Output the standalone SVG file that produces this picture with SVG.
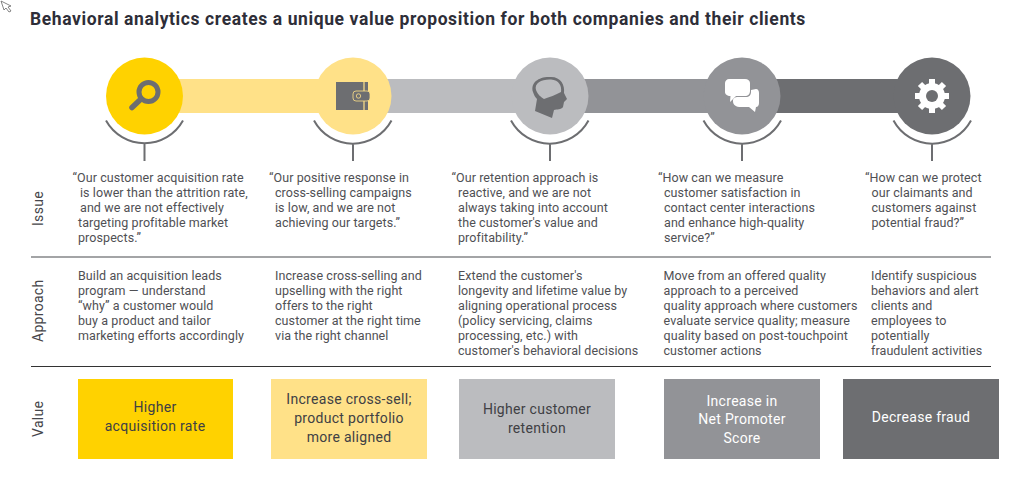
<svg xmlns="http://www.w3.org/2000/svg" width="1024" height="477" viewBox="0 0 1024 477">
<style>
text{font-family:Roboto,"Liberation Sans",sans-serif}
.t{font-size:12.5px;fill:#4f5054;letter-spacing:.08px}
.h{font-size:17.5px;font-weight:700;fill:#2e2e38;letter-spacing:.6px}
.r{font-size:14px;fill:#46464a;letter-spacing:.3px}
.v{font-size:14px;text-anchor:middle;letter-spacing:.3px;fill:#404044}
.w{fill:#fff}
.arc{fill:none;stroke:#6d6e71;stroke-width:2}
.ic{fill:#6d6e71}
</style>
<rect width="1024" height="477" fill="#fff"/>
<path d="M1 1l3 9 2-2 3 4 2-1-3-4 3-1z" fill="#fff" stroke="#666" stroke-width=".8"/>
<text class="h" x="30" y="25">Behavioral analytics creates a unique value proposition for both companies and their clients</text>
<g id="connectors">
<rect x="144" y="79" width="209" height="34" fill="#ffe188"/>
<rect x="353" y="79" width="197" height="34" fill="#bbbcbf"/>
<rect x="550" y="79" width="192" height="34" fill="#929397"/>
<rect x="742" y="79" width="190" height="34" fill="#6d6e71"/>
<path class="arc" d="M106 120.500A44 44 0 0 0 183 120.500M144.500 143V161"/>
<path class="arc" d="M314 120.500A44 44 0 0 0 391.500 120.500M353 143V161"/>
<path class="arc" d="M511 120.500A44 44 0 0 0 588.500 120.500M550 143V161"/>
<path class="arc" d="M703.500 120.500A44 44 0 0 0 781 120.500M742 143V161"/>
<path class="arc" d="M893.500 120.500A44 44 0 0 0 971 120.500M932 143V161"/>
<path d="M31 257H991" stroke="#858689" stroke-width="1.500"/>
<path d="M31 366.500H991" stroke="#333" stroke-width="1.200"/>
</g>
<g id="rows">
<text class="r" transform="translate(43 226) rotate(-90)">Issue</text>
<text class="r" transform="translate(43 342) rotate(-90)">Approach</text>
<text class="r" transform="translate(43 437) rotate(-90)">Value</text>
</g>
<g id="step1">
<circle cx="144.500" cy="96" r="38.500" fill="#ffd200"/>
<circle class="arc" cx="148.500" cy="92" r="9.500" style="stroke-width:5"/>
<path d="M141 99L132 107.500" stroke="#6d6e71" stroke-width="5.500" stroke-linecap="round"/>
<text class="t" x="72.500" y="182">“Our customer acquisition rate</text>
<text class="t" x="80" y="197">is lower than the attrition rate,</text>
<text class="t" x="80" y="212">and we are not effectively</text>
<text class="t" x="78" y="227">targeting profitable market</text>
<text class="t" x="78" y="242">prospects.”</text>
<text class="t" x="78" y="280">Build an acquisition leads</text>
<text class="t" x="78" y="295">program — understand</text>
<text class="t" x="78" y="310">“why” a customer would</text>
<text class="t" x="78" y="325">buy a product and tailor</text>
<text class="t" x="78" y="340">marketing efforts accordingly</text>
<rect x="78" y="379" width="155" height="80" fill="#ffd200"/>
<text class="v" x="155" y="412">Higher</text>
<text class="v" x="155" y="431">acquisition rate</text>
</g>
<g id="step2">
<circle cx="353" cy="96" r="38.500" fill="#ffe188"/>
<rect class="ic" x="336" y="82" width="32" height="28"/>
<path d="M364 82V110" stroke="#ffe188" stroke-width="1.200"/>
<rect class="ic" x="353" y="91" width="17" height="10" rx="3" stroke="#ffe188" stroke-width=".8"/>
<circle cx="358.500" cy="96" r="2.200" fill="none" stroke="#ffe188" stroke-width=".8"/>
<text class="t" x="269" y="182">“Our positive response in</text>
<text class="t" x="275" y="197">cross-selling campaigns</text>
<text class="t" x="275" y="212">is low, and we are not</text>
<text class="t" x="275" y="227">achieving our targets.”</text>
<text class="t" x="275" y="280">Increase cross-selling and</text>
<text class="t" x="275" y="295">upselling with the right</text>
<text class="t" x="275" y="310">offers to the right</text>
<text class="t" x="275" y="325">customer at the right time</text>
<text class="t" x="275" y="340">via the right channel</text>
<rect x="271" y="379" width="156" height="80" fill="#ffe188"/>
<text class="v" x="349" y="404">Increase cross-sell;</text>
<text class="v" x="349" y="423">product portfolio</text>
<text class="v" x="349" y="442">more aligned</text>
</g>
<g id="step3">
<circle cx="550" cy="96" r="38.500" fill="#bbbcbf"/>
<path class="ic" d="M533 92C530 82 540 76 551 77C561 77 565 85 564 93L567 99L564 102L563 107C561 110 557 109 554 110L552 118L535 111L537 99C535 97 534 95 533 92Z"/>
<path d="M536 90C534 83 542 79 551 79.500C559 80 562 86 561 92C556 95 549 97 544 99C541 97 538 95 536 90Z" fill="#bbbcbf"/>
<text class="t" x="451.500" y="182">“Our retention approach is</text>
<text class="t" x="458" y="197">reactive, and we are not</text>
<text class="t" x="458" y="212">always taking into account</text>
<text class="t" x="458" y="227">the customer's value and</text>
<text class="t" x="458" y="242">profitability.”</text>
<text class="t" x="458" y="280">Extend the customer's</text>
<text class="t" x="458" y="295">longevity and lifetime value by</text>
<text class="t" x="458" y="310">aligning operational process</text>
<text class="t" x="458" y="325">(policy servicing, claims</text>
<text class="t" x="458" y="340">processing, etc.) with</text>
<text class="t" x="458" y="355">customer's behavioral decisions</text>
<rect x="459" y="379" width="156" height="80" fill="#bbbcbf"/>
<text class="v" x="537" y="414">Higher customer</text>
<text class="v" x="537" y="433">retention</text>
</g>
<g id="step4">
<circle cx="742" cy="96" r="38.500" fill="#929397"/>
<path class="w" d="M756 89C758 89 759 91 759 93V103C759 105 758 107 756 107L755 112L749 107H741C736 107 733 105 733 101C733 98 735 97 738 97H746C749 97 751 95 751 92V90Z"/>
<path class="w" d="M729 79H745C748 79 750 81 750 83V91C750 94 748 96 745 96H736L730 102L730.500 96C727 96 725 94 725 92V83C725 81 727 79 729 79Z"/>
<text class="t" x="658" y="182">“How can we measure</text>
<text class="t" x="664" y="197">customer satisfaction in</text>
<text class="t" x="664" y="212">contact center interactions</text>
<text class="t" x="664" y="227">and enhance high-quality</text>
<text class="t" x="664" y="242">service?”</text>
<text class="t" x="663.500" y="280">Move from an offered quality</text>
<text class="t" x="663.500" y="295">approach to a perceived</text>
<text class="t" x="663.500" y="310">quality approach where customers</text>
<text class="t" x="663.500" y="325">evaluate service quality; measure</text>
<text class="t" x="663.500" y="340">quality based on post-touchpoint</text>
<text class="t" x="663.500" y="355">customer actions</text>
<rect x="664" y="379" width="156" height="80" fill="#929397"/>
<text class="v" x="742" y="406" style="fill:#fff">Increase in</text>
<text class="v" x="742" y="424" style="fill:#fff">Net Promoter</text>
<text class="v" x="742" y="443" style="fill:#fff">Score</text>
</g>
<g id="step5">
<circle cx="932" cy="96" r="38.500" fill="#6d6e71"/>
<circle class="w" cx="932" cy="96" r="13"/>
<path d="M932 79V113M915 96H949M920 84L944 108M944 84L920 108" stroke="#fff" stroke-width="6"/>
<circle cx="932" cy="96" r="6" fill="#6d6e71"/>
<text class="t" x="865" y="182">“How can we protect</text>
<text class="t" x="871.500" y="197">our claimants and</text>
<text class="t" x="871.500" y="212">customers against</text>
<text class="t" x="871.500" y="227">potential fraud?”</text>
<text class="t" x="871" y="280">Identify suspicious</text>
<text class="t" x="871" y="295">behaviors and alert</text>
<text class="t" x="871" y="310">clients and</text>
<text class="t" x="871" y="325">employees to</text>
<text class="t" x="871" y="340">potentially</text>
<text class="t" x="871" y="355">fraudulent activities</text>
<rect x="843" y="379" width="156" height="80" fill="#6d6e71"/>
<text class="v" x="921" y="422" style="fill:#fff">Decrease fraud</text>
</g>
</svg>
